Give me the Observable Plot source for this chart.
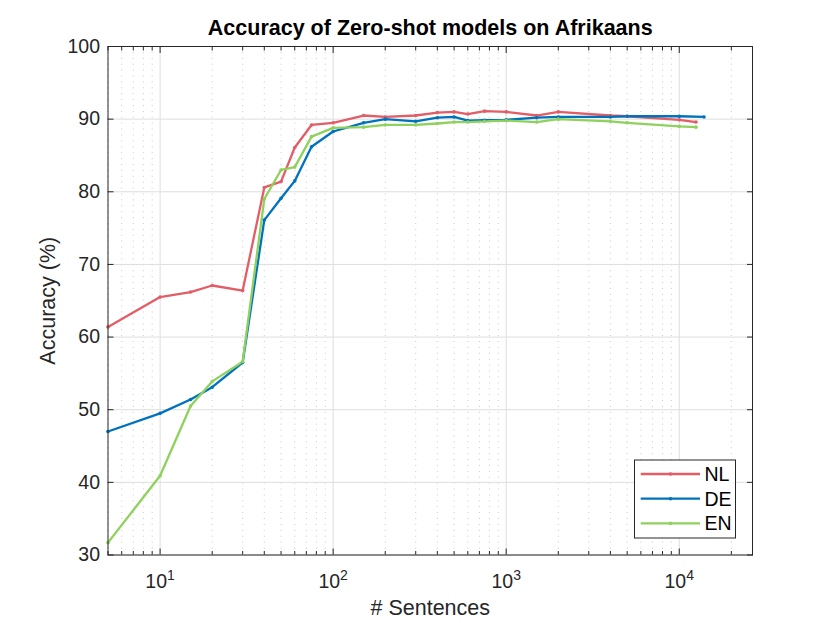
<!DOCTYPE html>
<html>
<head>
<meta charset="utf-8">
<script src="https://cdn.jsdelivr.net/npm/d3@7"></script>
<script src="https://cdn.jsdelivr.net/npm/@observablehq/plot@0.6"></script>
<style>
  html, body { margin: 0; padding: 0; background: #fff; }
  #chart { width: 830px; height: 623px; }
</style>
</head>
<body>
<div id="chart"></div>
<script>
const title = "Accuracy of Zero-shot models on Afrikaans";
const xLabel = "# Sentences";
const yLabel = "Accuracy (%)";

const sentences = [5, 10, 15, 20, 30, 40, 50, 60, 75, 100, 150, 200, 300, 400, 500, 600, 750, 1000, 1500, 2000, 4000, 5000, 10000];
const lastNL = 12500, lastDE = 13900, lastEN = 12500;

const nl = [61.4, 65.5, 66.2, 67.1, 66.4, 80.6, 81.4, 86.1, 89.2, 89.5, 90.5, 90.3, 90.5, 90.9, 91.0, 90.7, 91.1, 91.0, 90.5, 91.0, 90.5, 90.4, 89.9, 89.6];
const de = [47.0, 49.5, 51.4, 53.1, 56.5, 76.1, 79.1, 81.5, 86.2, 88.3, 89.5, 90.0, 89.7, 90.2, 90.3, 89.8, 89.85, 89.9, 90.2, 90.3, 90.3, 90.4, 90.4, 90.3];
const en = [31.7, 40.9, 50.5, 53.9, 56.6, 79.0, 83.0, 83.4, 87.6, 88.8, 88.9, 89.2, 89.2, 89.4, 89.6, 89.6, 89.7, 89.8, 89.6, 90.0, 89.7, 89.5, 89.0, 88.9];

const seriesNames = ["NL", "DE", "EN"];
const seriesColors = ["#e35d66", "#0072bd", "#8fd15d"];

const majorX = [10, 100, 1000, 10000];
const minorX = [5, 6, 7, 8, 9, 20, 30, 40, 50, 60, 70, 80, 90, 200, 300, 400, 500, 600, 700, 800, 900, 2000, 3000, 4000, 5000, 6000, 7000, 8000, 9000, 20000];
const yTicks = [30, 40, 50, 60, 70, 80, 90, 100];

const xs = {NL: [...sentences, lastNL], DE: [...sentences, lastDE], EN: [...sentences, lastEN]};
const vals = {NL: nl, DE: de, EN: en};
const rows = seriesNames.flatMap(s => vals[s].map((v, i) => ({series: s, x: xs[s][i], y: v})));

const ink = "#262626";
const font = "'Liberation Sans', Arial, Helvetica, sans-serif";

const plot = Plot.plot({
  width: 830,
  height: 623,
  marginLeft: 107.5,
  marginRight: 78,
  marginTop: 46,
  marginBottom: 68.5,
  style: {background: "#fff", fontFamily: font, color: ink},
  x: {type: "log", domain: [5, 26500], axis: null},
  y: {domain: [30, 100], axis: null},
  color: {domain: seriesNames, range: seriesColors},
  marks: [
    Plot.ruleX(minorX, {stroke: "#c8c8c8", strokeDasharray: "1,4.9", strokeWidth: 1}),
    Plot.ruleX(majorX, {stroke: "#dedede", strokeWidth: 1}),
    Plot.ruleY(yTicks, {stroke: "#dedede", strokeWidth: 1}),
    Plot.line(rows, {x: "x", y: "y", z: "series", stroke: "series", strokeWidth: 2.3}),
    Plot.dot(rows, {x: "x", y: "y", fill: "series", r: 1.8}),
    Plot.frame({stroke: ink, strokeWidth: 1}),
    Plot.axisX(majorX, {anchor: "bottom", tickSize: -6, fill: "none", stroke: ink, label: null}),
    Plot.axisX(majorX, {anchor: "top", tickSize: -6, fill: "none", stroke: ink, label: null}),
    Plot.axisX(minorX, {anchor: "bottom", tickSize: -3.5, fill: "none", stroke: ink, label: null}),
    Plot.axisX(minorX, {anchor: "top", tickSize: -3.5, fill: "none", stroke: ink, label: null}),
    Plot.axisY(yTicks, {anchor: "left", tickSize: -6, fill: "none", stroke: ink, label: null}),
    Plot.axisY(yTicks, {anchor: "right", tickSize: -6, fill: "none", stroke: ink, label: null}),
    Plot.axisX(majorX, {anchor: "bottom", tickSize: 0, tickPadding: 19, fontSize: 19.5, fill: ink, label: null,
      tickFormat: d => `10^${Math.round(Math.log10(d))}`}),
    Plot.axisY(yTicks, {anchor: "left", tickSize: 0, tickPadding: 8, fontSize: 19.5, fill: ink, label: null}),
    Plot.text([title], {frameAnchor: "top", dy: -18, lineAnchor: "middle", fontSize: 21.5, fontWeight: "bold", fill: "#000"}),
    Plot.text([xLabel], {frameAnchor: "bottom", dy: 53.5, lineAnchor: "middle", fontSize: 21.5, fill: ink}),
    Plot.text([yLabel], {frameAnchor: "left", dx: -59.5, rotate: -90, textAnchor: "middle", lineAnchor: "middle", fontSize: 21.5, fill: ink})
  ]
});

// superscript exponents in x tick labels
d3.select(plot).selectAll("text").each(function() {
  const t = this.textContent;
  if (/^10\^\d+$/.test(t)) {
    const [base, exp] = t.split("^");
    const sel = d3.select(this);
    sel.text("");
    sel.append("tspan").text(base);
    sel.append("tspan").attr("dy", "-8").attr("font-size", "14").text(exp);
  }
});

// legend box (inside the plot frame, lower right)
const svg = d3.select(plot);
const lx = 634.5, ly = 460, lw = 101, lh = 78;
const g = svg.append("g").attr("font-family", font).attr("text-anchor", "start");
g.append("rect").attr("x", lx).attr("y", ly).attr("width", lw).attr("height", lh)
  .attr("fill", "#fff").attr("stroke", ink).attr("stroke-width", 1);
seriesNames.forEach((s, i) => {
  const yy = 474 + i * 24.7;
  g.append("line").attr("x1", 640.7).attr("x2", 700).attr("y1", yy).attr("y2", yy)
    .attr("stroke", seriesColors[i]).attr("stroke-width", 2.3);
  g.append("circle").attr("cx", 670.5).attr("cy", yy).attr("r", 1.8).attr("fill", seriesColors[i]);
  g.append("text").attr("x", 704.5).attr("y", yy).attr("dy", "0.36em").attr("font-size", 19.5)
    .attr("text-anchor", "start").attr("fill", "#000").text(s);
});

document.getElementById("chart").appendChild(plot);
</script>
</body>
</html>
